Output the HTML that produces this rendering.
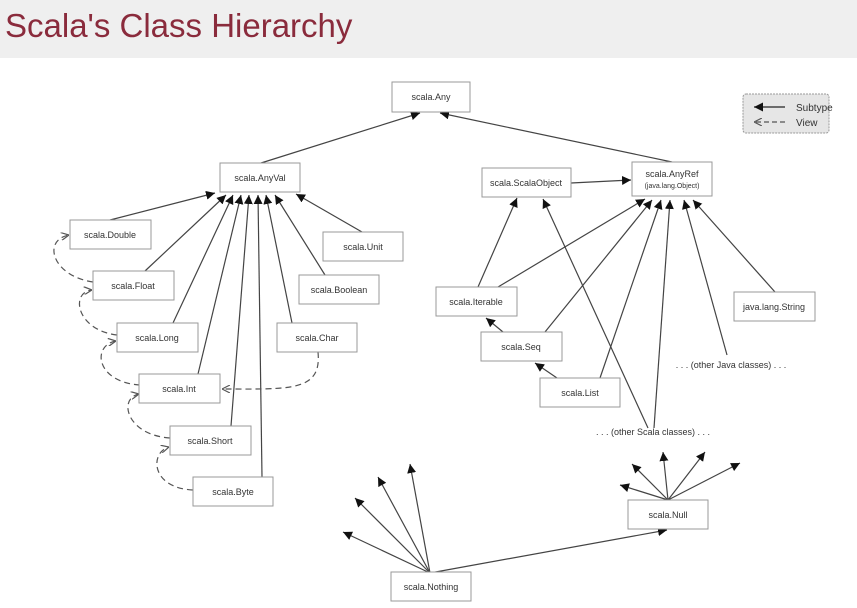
<!DOCTYPE html>
<html><head><meta charset="utf-8"><style>
body{margin:0;width:857px;height:608px;overflow:hidden;background:#fff;font-family:"Liberation Sans",sans-serif}
#hd{position:absolute;left:0;top:0;width:857px;height:58px;background:#efefef}
#t{position:absolute;left:5px;top:7px;font-size:33px;color:#8a2b3c;font-family:"Liberation Sans",sans-serif}
svg{position:absolute;left:0;top:0}
</style></head><body>
<div id="hd"></div><div id="t">Scala's Class Hierarchy</div>
<svg width="857" height="608" font-family="Liberation Sans, sans-serif">
<defs>
<marker id="a" viewBox="0 0 10 10" refX="10" refY="5" markerWidth="9" markerHeight="9" orient="auto" markerUnits="userSpaceOnUse"><path d="M0,0L10,5L0,10z" fill="#111"/></marker>
<marker id="o" viewBox="0 0 10 10" refX="10" refY="5" markerWidth="8" markerHeight="8" orient="auto" markerUnits="userSpaceOnUse"><path d="M0,0L10,5L0,10" fill="none" stroke="#555" stroke-width="1.5"/></marker>
</defs>
<g stroke="#444" stroke-width="1.2" fill="none" marker-end="url(#a)">
<line x1="261" y1="163" x2="420" y2="113"/>
<line x1="672" y1="162" x2="440" y2="113"/>
<line x1="571" y1="183" x2="631" y2="180"/>
<line x1="110" y1="220" x2="215" y2="193"/>
<line x1="145" y1="271" x2="226" y2="195"/>
<line x1="173" y1="323" x2="233" y2="195"/>
<line x1="198" y1="374" x2="241" y2="195"/>
<line x1="231" y1="426" x2="249" y2="195"/>
<line x1="262" y1="477" x2="258" y2="195"/>
<line x1="292" y1="323" x2="266" y2="195"/>
<line x1="325" y1="275" x2="275" y2="195"/>
<line x1="362" y1="232" x2="296" y2="194"/>
<line x1="478" y1="287" x2="517" y2="198"/>
<line x1="648" y1="428" x2="543" y2="199"/>
<line x1="498" y1="287" x2="645" y2="199"/>
<line x1="545" y1="332" x2="652" y2="200"/>
<line x1="600" y1="378" x2="661" y2="200"/>
<line x1="654" y1="428" x2="670" y2="200"/>
<line x1="727" y1="355" x2="684" y2="200"/>
<line x1="775" y1="292" x2="693" y2="200"/>
<line x1="503" y1="332" x2="486" y2="318"/>
<line x1="557" y1="378" x2="535" y2="363"/>
<line x1="430" y1="573" x2="343" y2="532"/>
<line x1="430" y1="573" x2="355" y2="498"/>
<line x1="430" y1="573" x2="378" y2="477"/>
<line x1="430" y1="573" x2="410" y2="464"/>
<line x1="430" y1="573" x2="667" y2="530"/>
<line x1="668" y1="500" x2="620" y2="485"/>
<line x1="668" y1="500" x2="632" y2="464"/>
<line x1="668" y1="500" x2="663" y2="452"/>
<line x1="668" y1="500" x2="705" y2="452"/>
<line x1="668" y1="500" x2="740" y2="463"/>
</g>
<g stroke="#555" stroke-width="1.2" fill="none" stroke-dasharray="6,4" marker-end="url(#o)">
<path d="M93,282 C52,276 42,240 69,235"/>
<path d="M117,335 C76,330 70,292 92,290"/>
<path d="M140,385 C95,382 92,345 116,341"/>
<path d="M170,438 C126,435 118,398 139,394"/>
<path d="M193,490 C150,488 150,452 169,447"/>
<path d="M318,352 C322,392 290,389 222,389"/>
</g>
<g fill="#fff" stroke="#999" stroke-width="1">
<rect x="392" y="82" width="78" height="30"/>
<rect x="220" y="163" width="80" height="29"/>
<rect x="482" y="168" width="89" height="29"/>
<rect x="632" y="162" width="80" height="34"/>
<rect x="70" y="220" width="81" height="29"/>
<rect x="323" y="232" width="80" height="29"/>
<rect x="93" y="271" width="81" height="29"/>
<rect x="299" y="275" width="80" height="29"/>
<rect x="436" y="287" width="81" height="29"/>
<rect x="734" y="292" width="81" height="29"/>
<rect x="117" y="323" width="81" height="29"/>
<rect x="277" y="323" width="80" height="29"/>
<rect x="481" y="332" width="81" height="29"/>
<rect x="139" y="374" width="81" height="29"/>
<rect x="540" y="378" width="80" height="29"/>
<rect x="170" y="426" width="81" height="29"/>
<rect x="193" y="477" width="80" height="29"/>
<rect x="628" y="500" width="80" height="29"/>
<rect x="391" y="572" width="80" height="29"/>
</g>
<rect x="743" y="94" width="86" height="39" rx="3" fill="#e6e6e6" stroke="#999" stroke-dasharray="2,1"/>
<line x1="785" y1="107" x2="754" y2="107" stroke="#222" stroke-width="1.2" marker-end="url(#a)"/>
<line x1="785" y1="122" x2="754" y2="122" stroke="#555" stroke-width="1.2" stroke-dasharray="5,3" marker-end="url(#o)"/>
<g font-size="9" fill="#333" text-anchor="middle">
<text x="431" y="100">scala.Any</text>
<text x="260" y="181">scala.AnyVal</text>
<text x="526" y="186">scala.ScalaObject</text>
<text x="672" y="177">scala.AnyRef</text>
<text x="672" y="188" font-size="7">(java.lang.Object)</text>
<text x="110" y="238">scala.Double</text>
<text x="363" y="250">scala.Unit</text>
<text x="133" y="289">scala.Float</text>
<text x="339" y="293">scala.Boolean</text>
<text x="476" y="305">scala.Iterable</text>
<text x="774" y="310">java.lang.String</text>
<text x="157" y="341">scala.Long</text>
<text x="317" y="341">scala.Char</text>
<text x="521" y="350">scala.Seq</text>
<text x="179" y="392">scala.Int</text>
<text x="580" y="396">scala.List</text>
<text x="210" y="444">scala.Short</text>
<text x="233" y="495">scala.Byte</text>
<text x="668" y="518">scala.Null</text>
<text x="431" y="590">scala.Nothing</text>
<text x="731" y="368">. . .  (other Java classes) . . .</text>
<text x="653" y="435">. . .  (other Scala classes) . . .</text>
</g>
<g font-size="10" fill="#333"><text x="796" y="111">Subtype</text><text x="796" y="126">View</text></g>
</svg>
</body></html>
